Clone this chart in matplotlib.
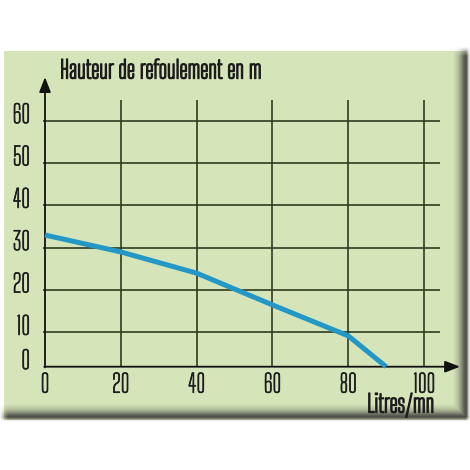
import numpy as np
import matplotlib
matplotlib.use("Agg")
import matplotlib.pyplot as plt
import matplotlib.patheffects as pe

# ---- data ----
flow = [0, 20, 40, 60, 80, 90]            # Litres/mn
head = [33, 29, 24, 16.5, 9, 0]           # m
x_ticks = [0, 20, 40, 60, 80, 100]
y_ticks = [0, 10, 20, 30, 40, 50, 60]
x_grid = [20, 40, 60, 80, 100]
y_grid = [10, 20, 30, 40, 50, 60]
title = "Hauteur de refoulement en m"
xlabel = "Litres/mn"

BG = (214, 228, 185)
GRID = "#2e3b1f"
CURVE = "#2397c6"
TXT = "#1c1c1c"
FONT = ["Big Shoulders Text", "DejaVu Sans"]

K = 0.81  # compression of the 0-10 band in the original drawing


def fwd(y):
    y = np.asarray(y, dtype=float)
    return np.where(y < 10, y * K, 10 * K + (y - 10))


def inv(t):
    t = np.asarray(t, dtype=float)
    return np.where(t < 10 * K, t / K, 10 + (t - 10 * K))


W = H = 470
fig = plt.figure(figsize=(4.7, 4.7), dpi=100)
fig.patch.set_facecolor("white")

# ---- decorative panel with drop shadow (background image) ----
xx = np.arange(W) + 0.5
yy = np.arange(H) + 0.5
X, Y = np.meshgrid(xx, yy)
inside = ((X >= 4) & (X <= 467) & (Y >= 51) & (Y <= 420)).astype(float)
img = np.ones((H, W, 3))
for c in range(3):
    img[..., c] = inside * (BG[c] / 255) + (1 - inside) * 1.0
prof_x = [453, 458, 461, 464, 466, 467.5, 469, 470]
prof_a = [0, 0.2, 0.45, 0.75, 0.88, 0.6, 0.2, 0]
prof_y = [404, 409, 412, 415, 417, 418.5, 420, 421]
right = (np.interp(X, prof_x, prof_a) * np.interp(Y, [47, 56], [0, 1])
         * np.interp(Y, [417, 421], [1, 0]))
bottom = (np.interp(Y, prof_y, prof_a) * np.interp(X, [0, 8], [0, 1])
          * np.interp(X, [466, 470], [1, 0]))
dark = np.maximum(right, bottom)[..., None]
img = img * (1 - dark) + np.array([0.22, 0.22, 0.22]) * dark
bg = fig.add_axes([0, 0, 1, 1])
bg.imshow(img, extent=(0, W, H, 0), interpolation="bilinear", aspect="auto")
bg.set_axis_off()
bg.set_zorder(0)

ax = fig.add_axes([0, 0, 1, 1])
ax.set_zorder(5)
ax.patch.set_visible(False)
ax.set_yscale("function", functions=(fwd, inv))

sx = 3.79
x_left = -45 / sx
x_right = (W - 45) / sx
sy = 246 / float(fwd(60))
t_top = 366.7 / sy
t_bot = (366.7 - H) / sy
ax.set_xlim(x_left, x_right)
ax.set_ylim(float(inv(t_bot)), float(inv(t_top)))
for s in ax.spines.values():
    s.set_visible(False)
ax.set_xticks([])
ax.set_yticks([])

# grid
ax.hlines(y_grid, -0.5, 104.2, color=GRID, lw=1.2, zorder=2)
ax.vlines(x_grid, 0, 64.8, color=GRID, lw=1.2, zorder=2)

# axes with arrows
ax.annotate("", xy=(0, 70.3), xytext=(0, -0.2),
            arrowprops=dict(arrowstyle="-|>,head_length=0.9,head_width=0.35",
                            color="#111111", lw=1.3, shrinkA=0, shrinkB=0), zorder=3)
ax.annotate("", xy=(109.5, 0), xytext=(-0.2, 0),
            arrowprops=dict(arrowstyle="-|>,head_length=0.9,head_width=0.35",
                            color="#111111", lw=1.3, shrinkA=0, shrinkB=0), zorder=3)

# curve
ax.plot(flow, head, color=CURVE, lw=3.6, solid_capstyle="butt", solid_joinstyle="miter", zorder=4)

# tick labels
thin = [pe.withStroke(linewidth=0.5, foreground=TXT)]
for v in x_ticks:
    ax.annotate(str(v), (v, 0), xytext=(0, -6), textcoords="offset pixels",
                ha="center", va="top", fontsize=18, family=FONT, color=TXT, path_effects=thin)
for v in y_ticks:
    ax.annotate(str(v), (0, v), xytext=(-15, 5), textcoords="offset pixels",
                ha="right", va="center", fontsize=18, family=FONT, color=TXT, path_effects=thin)

bold = [pe.withStroke(linewidth=1.0, foreground=TXT)]
fig.text(60 / W, 1 - 71 / H, title, ha="left", va="center", zorder=6,
         fontsize=17.5, family=FONT, color=TXT, path_effects=bold)
fig.text(434 / W, 1 - 405 / H, xlabel, ha="right", va="center", zorder=6,
         fontsize=17.5, family=FONT, color=TXT, path_effects=bold)

fig.savefig("out.png", dpi=100, facecolor="white")
